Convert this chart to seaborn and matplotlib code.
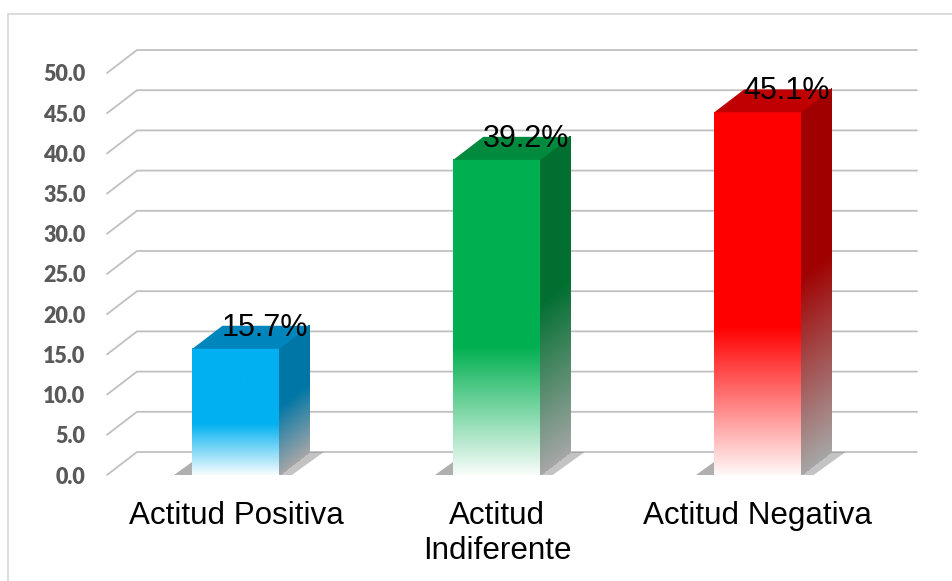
import numpy as np
import pandas as pd
import matplotlib
matplotlib.use("Agg")
import matplotlib.pyplot as plt
import seaborn as sns
from matplotlib.patches import Polygon, Rectangle
from matplotlib.lines import Line2D
from matplotlib.transforms import IdentityTransform
from matplotlib.colors import to_rgb

# --- data -------------------------------------------------------------
categorias = ["Actitud Positiva", "Actitud\nIndiferente", "Actitud Negativa"]
porcentajes = [15.7, 39.2, 45.1]
ticks_y = [0, 5, 10, 15, 20, 25, 30, 35, 40, 45, 50]
etiquetas_y = ["0.0", "5.0", "10.0", "15.0", "20.0", "25.0",
               "30.0", "35.0", "40.0", "45.0", "50.0"]

# --- styling ----------------------------------------------------------
colores_frente = ["#00B0F0", "#00B050", "#FF0000"]
colores_tapa = ["#0085BC", "#008A3E", "#C00000"]
colores_lado = ["#0076A6", "#006F30", "#A00000"]
gris_base = "#A6A6A6"
color_rejilla = "#C0C0C0"
DX, DY = 30, 23          # depth of the 3-D effect, in pixels

sns.set_theme(style="white")
plt.rcParams["font.family"] = ["Liberation Sans", "DejaVu Sans"]

fig = plt.figure(figsize=(9.52, 5.81), dpi=100)
fig.patch.set_facecolor("white")
ax = fig.add_axes([107 / 952, 106 / 581, 780 / 952, 402 / 581])
ax.patch.set_visible(False)

df = pd.DataFrame({"categoria": categorias, "valor": porcentajes})
sns.barplot(data=df, x="categoria", y="valor", hue="categoria",
            palette=colores_frente, width=0.335, saturation=1,
            legend=False, ax=ax, zorder=3)

ax.set_xlim(-0.495, 2.495)
ax.set_ylim(0, 50)
ax.set_xlabel("")
ax.set_ylabel("")
for s in ax.spines.values():
    s.set_visible(False)
ax.grid(False)

# tick labels
ax.set_yticks(ticks_y)
ax.set_yticklabels(etiquetas_y, fontfamily="Lato", fontweight="heavy",
                   fontsize=15.5, color="#595959")
ax.tick_params(axis="y", length=0, pad=15.5)
ax.set_xticks(range(len(categorias)))
ax.set_xticklabels(categorias, fontsize=22.6, color="black")
ax.tick_params(axis="x", length=0, pad=19)

T = ax.transData
x_lo, x_hi = ax.get_xlim()
ident = IdentityTransform()

# gridlines: a diagonal on the side wall followed by the back wall line
for v in ticks_y:
    fx, fy = T.transform((x_lo, v))
    ex, _ = T.transform((x_hi, v))
    ln = Line2D([fx, fx + DX, ex + DX], [fy, fy + DY, fy + DY],
                transform=ident, color=color_rejilla, lw=1.3,
                clip_on=False, zorder=0.5, solid_joinstyle="miter")
    ax.add_line(ln)


def mezcla(c1, c2, m):
    a = np.array(to_rgb(c1))
    b = np.array(to_rgb(c2))
    return tuple(a * (1 - m) + b * m)


# 3-D faces built on top of each seaborn bar
barras = [p for p in ax.patches]
for i, p in enumerate(barras):
    x0 = p.get_x()
    w = p.get_width()
    h = p.get_height()
    p.set_facecolor("none")
    p.set_edgecolor("none")

    # front face: solid colour fading to white near the floor
    t = np.linspace(0, 1, 256)
    m = np.clip(0.03 + t / 0.42, 0, 1)
    frente = np.array(to_rgb(colores_frente[i]))
    img = (1 - m)[:, None] * np.ones(3) + m[:, None] * frente
    ax.imshow(img[:, None, :], extent=(x0, x0 + w, 0, h), origin="lower",
              aspect="auto", zorder=3, interpolation="bilinear")

    X0, Y0 = T.transform((x0, 0))
    X1, _ = T.transform((x0 + w, 0))
    _, Yh = T.transform((x0, h))

    # floor shadows
    ax.add_patch(Polygon([(X0 - 18, Y0), (X0, Y0), (X0, Y0 + 13)],
                         closed=True, transform=ident, facecolor="#6E6E6E",
                         alpha=0.55, edgecolor="none", zorder=2,
                         clip_on=False))
    ax.add_patch(Polygon([(X1, Y0), (X1 + DX, Y0 + DY),
                          (X1 + DX + 14, Y0 + DY), (X1 + 12, Y0)],
                         closed=True, transform=ident, facecolor="#7A7A7A",
                         alpha=0.45, edgecolor="none", zorder=2,
                         clip_on=False))

    # side face, drawn in thin slices for the vertical gradient
    M = int(max(Yh - Y0, 1))
    ys = np.linspace(Y0, Yh, M + 1)
    for k in range(M):
        tk = (k + 0.5) / M
        col = mezcla(gris_base, colores_lado[i], np.clip(tk / 0.55, 0, 1))
        ax.add_patch(Polygon([(X1, ys[k]), (X1, ys[k + 1] + 0.6),
                              (X1 + DX, ys[k + 1] + DY + 0.6),
                              (X1 + DX, ys[k] + DY)],
                             closed=True, transform=ident, facecolor=col,
                             edgecolor="none", lw=0, antialiased=False,
                             zorder=3, clip_on=False))

    # top face
    ax.add_patch(Polygon([(X0, Yh), (X1, Yh), (X1 + DX, Yh + DY),
                          (X0 + DX, Yh + DY)],
                         closed=True, transform=ident,
                         facecolor=colores_tapa[i], edgecolor="none",
                         zorder=3.1, clip_on=False))

    # value label
    ax.annotate(f"{porcentajes[i]:.1f}%", xy=(x0 + w / 2, h),
                xytext=(29, 13), textcoords="offset pixels",
                ha="center", va="baseline", fontsize=22, color="black",
                zorder=6, annotation_clip=False)

ax.set_xlim(x_lo, x_hi)
ax.set_ylim(0, 50)

# outer chart border
fig.add_artist(Rectangle((8 / 952, -0.05), 1.1, 1 - 14 / 581 + 0.05,
                         transform=fig.transFigure, fill=False,
                         edgecolor="#D9D9D9", lw=1.3))

fig.savefig("out.png", dpi=100, facecolor="white")
